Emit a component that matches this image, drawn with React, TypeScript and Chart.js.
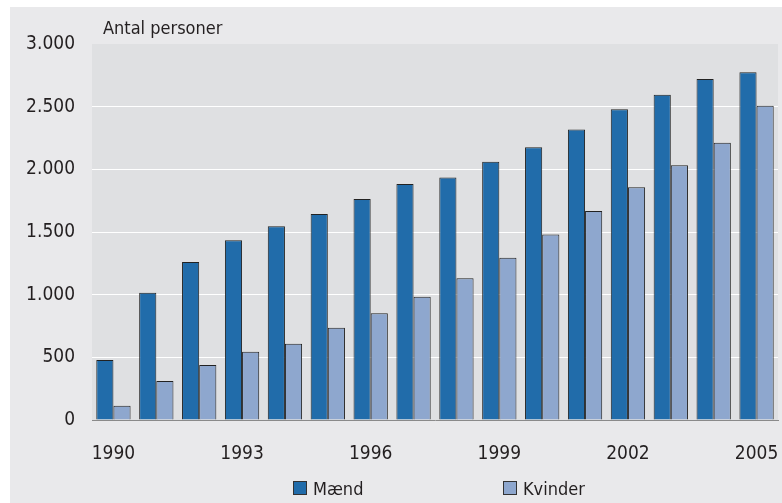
import React, { useEffect, useRef } from "react";
import { Chart, registerables } from "chart.js";

Chart.register(...registerables);

const years: string[] = ["1990", "1991", "1992", "1993", "1994", "1995", "1996", "1997", "1998", "1999", "2000", "2001", "2002", "2003", "2004", "2005"];
const maend: number[] = [479, 1016, 1261, 1434, 1546, 1644, 1764, 1883, 1934, 2061, 2176, 2317, 2479, 2596, 2721, 2775];
const kvinder: number[] = [114, 311, 439, 545, 609, 737, 851, 984, 1131, 1295, 1480, 1668, 1857, 2032, 2213, 2508];
const seriesNames: string[] = ["Mænd", "Kvinder"];
const yTitle = "Antal personer";

const FONT = '"Liberation Sans Narrow", "DejaVu Sans Condensed", "Arial Narrow", sans-serif';
const TEXT = "#231f20";
const C_M = "#216caa";
const C_K = "#8ea7ce";

const fmt = (v: number) => String(v).replace(/\B(?=(\d{3})+(?!\d))/g, ".");

const decor = {
  id: "decor",
  beforeDraw(chart: any) {
    const { ctx, chartArea: a } = chart;
    ctx.save();
    ctx.fillStyle = "#dfe0e2";
    ctx.fillRect(a.left, a.top, a.right - a.left, a.bottom - a.top);
    ctx.restore();
  },
  afterDraw(chart: any) {
    const { ctx, chartArea: a } = chart;
    ctx.save();
    ctx.fillStyle = TEXT;
    ctx.font = `18px ${FONT}`;
    ctx.textBaseline = "alphabetic";
    ctx.textAlign = "left";
    ctx.fillText(yTitle, a.left + 11, a.top - 10);
    // legend
    const cx = (a.left + a.right) / 2;
    const items = [
      { x: cx - 142, label: chart.data.datasets[0].label, color: chart.data.datasets[0].backgroundColor },
      { x: cx + 68, label: chart.data.datasets[1].label, color: chart.data.datasets[1].backgroundColor },
    ];
    const boxTop = a.bottom + 61;
    items.forEach((it) => {
      ctx.fillStyle = it.color;
      ctx.fillRect(it.x, boxTop, 14, 14);
      ctx.strokeStyle = "#333";
      ctx.lineWidth = 1;
      ctx.strokeRect(it.x + 0.5, boxTop + 0.5, 13, 13);
      ctx.fillStyle = TEXT;
      ctx.fillText(it.label, it.x + 20, boxTop + 14);
    });
    ctx.restore();
  },
};

export default function App() {
  const ref = useRef<HTMLCanvasElement | null>(null);
  useEffect(() => {
    if (!ref.current) return;
    const chart = new Chart(ref.current, {
      type: "bar",
      data: {
        labels: years,
        datasets: [
          { label: seriesNames[0], data: maend, backgroundColor: C_M, borderColor: "#222", borderWidth: 1, borderSkipped: "bottom", categoryPercentage: 0.8, barPercentage: 1 },
          { label: seriesNames[1], data: kvinder, backgroundColor: C_K, borderColor: "#222", borderWidth: 1, borderSkipped: "bottom", categoryPercentage: 0.8, barPercentage: 1 },
        ],
      },
      options: {
        responsive: false,
        animation: false,
        devicePixelRatio: 1,
        layout: { padding: { top: 37, right: 4, left: 0, bottom: 0 } },
        plugins: { legend: { display: false }, tooltip: { enabled: false }, title: { display: false } },
        scales: {
          x: {
            grid: { display: false },
            border: { display: true, color: "#8a8a8a", width: 1 },
            ticks: {
              autoSkip: false,
              maxRotation: 0,
              padding: 15,
              color: TEXT,
              font: { family: FONT, size: 19 },
              callback: (_v: any, i: number) => (i % 3 === 0 ? years[i] : ""),
            },
            afterFit: (s: any) => { s.height = 83; s.paddingLeft = 0; s.paddingRight = 0; },
          },
          y: {
            min: 0,
            max: 3000,
            grid: {
              color: (c: any) => (c.tick && (c.tick.value === 0 || c.tick.value === 3000) ? "rgba(0,0,0,0)" : "#ffffff"),
              lineWidth: 1,
              drawTicks: false,
            },
            border: { display: false },
            ticks: {
              stepSize: 500,
              padding: 17,
              color: TEXT,
              font: { family: FONT, size: 19 },
              callback: (v: any) => fmt(Number(v)),
            },
            afterFit: (s: any) => { s.width = 82; s.paddingTop = 0; s.paddingBottom = 0; },
          },
        },
      },
      plugins: [decor],
    });
    return () => chart.destroy();
  }, []);

  return (
    <div style={{ position: "absolute", left: 0, top: 0, width: 782, height: 503, background: "#ffffff" }}>
      <div style={{ position: "absolute", left: 10, top: 7, width: 772, height: 496, background: "#e9e9eb" }}>
        <canvas ref={ref} width={772} height={496} style={{ display: "block", width: 772, height: 496 }} />
      </div>
    </div>
  );
}
